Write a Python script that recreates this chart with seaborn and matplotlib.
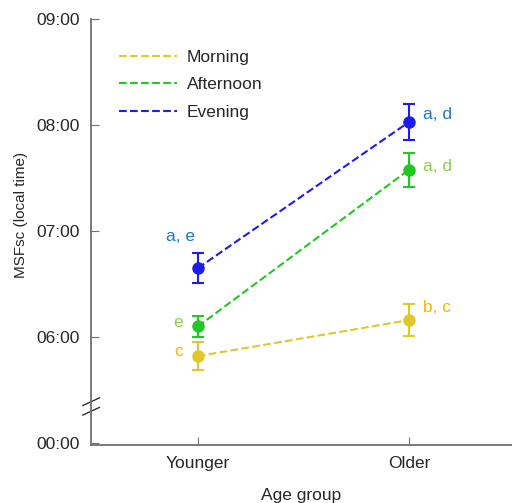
import matplotlib
matplotlib.use("Agg")
import matplotlib.pyplot as plt
from matplotlib.lines import Line2D
import pandas as pd
import seaborn as sns

# Data (hours, 05:00 on the axis is shown as a broken 00:00)
groups = ["Younger", "Older"]
timings = ["Morning", "Afternoon", "Evening"]
morning = [5.82, 6.16]
morning_err = [0.13, 0.15]
afternoon = [6.10, 7.58]
afternoon_err = [0.10, 0.16]
evening = [6.65, 8.03]
evening_err = [0.14, 0.17]
letters = {
    "Morning": ["c", "b, c"],
    "Afternoon": ["e", "a, d"],
    "Evening": ["a, e", "a, d"],
}
ytick_vals = [5, 6, 7, 8, 9]
ytick_labels = ["00:00", "06:00", "07:00", "08:00", "09:00"]

line_colors = {"Morning": "#e0c828", "Afternoon": "#22c822", "Evening": "#1c1cee"}
letter_colors = {"Morning": "#f5b400", "Afternoon": "#8ccc50", "Evening": "#1a78d0"}
# label offsets (dx, dy) relative to each point
letter_offsets = {
    "Morning": [(-0.093, 0.04), (0.065, 0.12)],
    "Afternoon": [(-0.093, 0.04), (0.065, 0.03)],
    "Evening": [(-0.08, 0.3), (0.065, 0.07)],
}

values = {"Morning": morning, "Afternoon": afternoon, "Evening": evening}
errors = {"Morning": morning_err, "Afternoon": afternoon_err, "Evening": evening_err}

rows = []
for t in timings:
    for i, g in enumerate(groups):
        rows.append({"pos": i, "group": g, "timing": t,
                     "msf": values[t][i], "err": errors[t][i]})
df = pd.DataFrame(rows)

sns.set_style("ticks")
plt.rcParams["font.family"] = ["Liberation Sans", "DejaVu Sans"]
fs = 12.5

fig = plt.figure(figsize=(5.12, 5.03), dpi=100)
ax = fig.add_axes([0.178, 0.115, 0.822, 0.847])

sns.lineplot(
    data=df, x="pos", y="msf", hue="timing",
    palette=line_colors, hue_order=timings,
    linestyle="--", linewidth=1.5, dashes=False,
    marker="o", markersize=9, markeredgewidth=0,
    legend=False, ax=ax
)

for t in timings:
    sub = df[df["timing"] == t]
    ax.errorbar(sub["pos"], sub["msf"], yerr=sub["err"], fmt="none",
                ecolor=line_colors[t], elinewidth=1.5, capsize=4,
                capthick=1.5, zorder=3)

# Significance letters
for t in timings:
    for i in range(2):
        dx, dy = letter_offsets[t][i]
        ha = "left" if i == 1 else "center"
        ax.text(i + dx, values[t][i] + dy, letters[t][i],
                color=letter_colors[t], fontsize=fs, ha=ha, va="center")

ax.set_xlim(-0.505, 1.487)
ax.set_ylim(4.98, 9.0)
ax.set_xticks([0, 1])
ax.set_xticklabels(groups)
ax.set_yticks(ytick_vals)
ax.set_yticklabels(ytick_labels)
ax.tick_params(direction="in", length=6, color="#707070", labelsize=fs,
               pad=8)

for s in ["top", "right"]:
    ax.spines[s].set_visible(False)
for s in ["left", "bottom"]:
    ax.spines[s].set_color("#707070")
    ax.spines[s].set_linewidth(1.3)

ax.set_xlabel("Age group", fontsize=fs, labelpad=12)
ax.set_ylabel("MSFsc (local time)", fontsize=11)
ax.yaxis.set_label_coords(-0.15, 0.54)

# Axis break marks
for yb in [5.39, 5.30]:
    ax.plot([-0.545, -0.465], [yb - 0.037, yb + 0.037], color="#303030",
            linewidth=1, clip_on=False)

handles = [Line2D([0], [0], color=line_colors[t], linestyle="--",
                  linewidth=1.5) for t in timings]
ax.legend(handles, timings, loc="upper left", bbox_to_anchor=(0.03, 0.965),
          frameon=False, fontsize=fs, handlelength=3.3, labelspacing=0.72,
          handletextpad=0.6)

fig.savefig("out.png", dpi=100)
